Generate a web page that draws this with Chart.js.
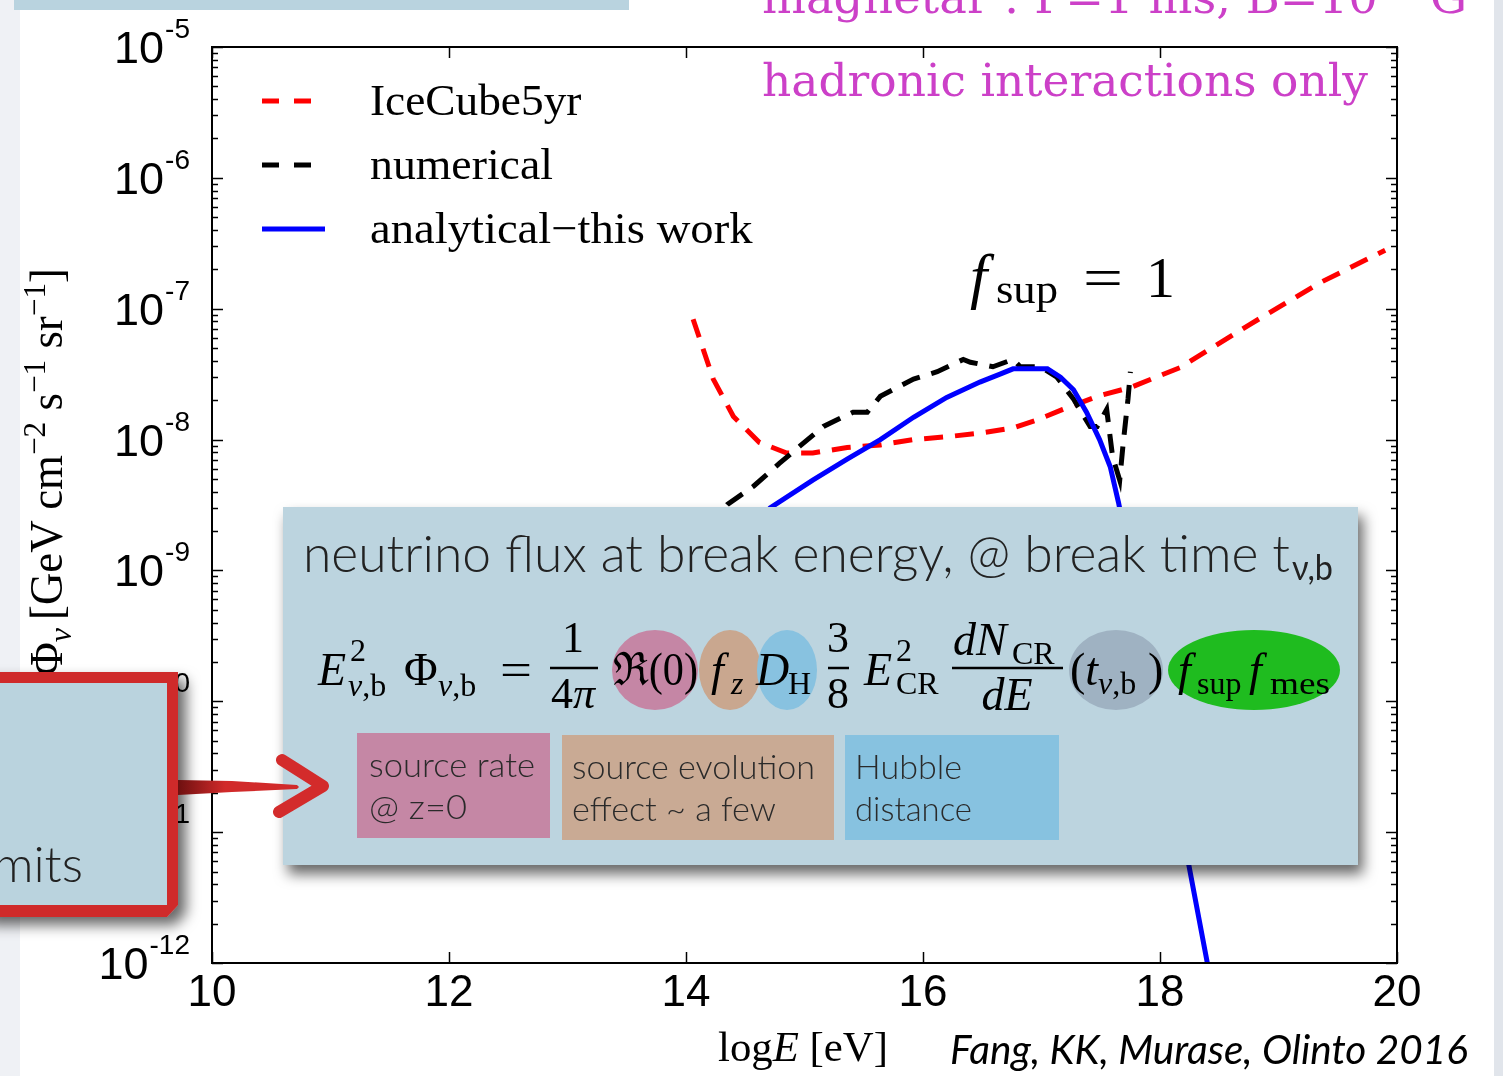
<!DOCTYPE html>
<html>
<head>
<meta charset="utf-8">
<title>Neutrino flux, magnetar hadronic interactions</title>
<script src="https://cdn.jsdelivr.net/npm/chart.js@4.4.1/dist/chart.umd.min.js"></script>
<style>
  html, body { margin: 0; padding: 0; background: #fff; }
  #stage { position: relative; width: 1503px; height: 1076px; overflow: hidden; background: #fff; }
  #chart, #deco { position: absolute; left: 0; top: 0; }
</style>
</head>
<body>
<div id="stage">
<canvas id="chart" width="1503" height="1076"></canvas>
<svg id="deco" width="1503" height="1076" viewBox="0 0 1503 1076" xmlns="http://www.w3.org/2000/svg">
  <defs>
    <filter id="boxShadow" x="-5%" y="-5%" width="115%" height="125%">
      <feDropShadow dx="5" dy="9" stdDeviation="7" flood-color="#000" flood-opacity="0.6"/>
    </filter>
    <filter id="redShadow" x="-10%" y="-10%" width="130%" height="130%">
      <feDropShadow dx="8" dy="8" stdDeviation="7" flood-color="#000" flood-opacity="0.6"/>
    </filter>
    <linearGradient id="arrowShade" x1="178" y1="0" x2="225" y2="0" gradientUnits="userSpaceOnUse">
      <stop offset="0" stop-color="#6e1010"/>
      <stop offset="1" stop-color="#d12a2a"/>
    </linearGradient>
  </defs>

  <!-- slide margins -->
  <rect x="0" y="0" width="20" height="1076" fill="#eff1f5"/>
  <rect x="1494" y="0" width="9" height="1076" fill="#e1e5eb"/>
  <rect x="14" y="0" width="615" height="10" fill="#b9d3df"/>

  <!-- slide heading (runs off the top edge) -->
  <text x="762" y="13" font-family="DejaVu Serif" font-size="44" fill="#cc40c8"
        textLength="705" lengthAdjust="spacingAndGlyphs">magnetar : P=1 ms, B=10<tspan dy="-16" font-size="28">15</tspan><tspan dy="16"> G</tspan></text>

  <!-- in-plot annotations -->
  <text x="762" y="96" font-family="DejaVu Serif" font-size="44" fill="#cc40c8"
        textLength="606" lengthAdjust="spacingAndGlyphs">hadronic interactions only</text>
  <g font-family="Liberation Serif" fill="#000">
    <text x="970" y="297" font-size="62" font-style="italic">f</text>
    <text x="996" y="303" font-size="40" textLength="62" lengthAdjust="spacingAndGlyphs">sup</text>
    <text x="1083" y="297" font-size="58" textLength="40" lengthAdjust="spacingAndGlyphs">=</text>
    <text x="1146" y="297" font-size="58">1</text>
  </g>

  <!-- y axis title -->
  <g font-family="Liberation Serif" font-size="46" fill="#000">
    <text transform="translate(62,268) rotate(-90)" text-anchor="end" textLength="352" lengthAdjust="spacingAndGlyphs">[GeV cm<tspan dy="-17" font-size="32">−2</tspan><tspan dy="17"> s</tspan><tspan dy="-17" font-size="32">−1</tspan><tspan dy="17"> sr</tspan><tspan dy="-17" font-size="32">−1</tspan><tspan dy="17">]</tspan></text>
    <text transform="translate(62,628) rotate(-90)" text-anchor="end"><tspan font-style="italic">E</tspan><tspan dy="-17" font-size="32">2</tspan><tspan dy="26" font-size="32" font-style="italic">ν</tspan><tspan dy="-9"> Φ</tspan><tspan dy="9" font-size="32" font-style="italic">ν</tspan></text>
  </g>

  <!-- x axis title and citation -->
  <text x="718" y="1061" font-family="Liberation Serif" font-size="42" fill="#000"
        textLength="170" lengthAdjust="spacingAndGlyphs">log<tspan font-style="italic">E</tspan> [eV]</text>
  <text x="950" y="1064" font-family="Lato, 'Open Sans', sans-serif" font-style="italic" font-size="40" fill="#000"
        textLength="518" lengthAdjust="spacingAndGlyphs">Fang, KK, Murase, Olinto 2016</text>

  <!-- callout box on the left -->
  <g filter="url(#redShadow)">
    <path d="M-20,672 H178 V905 L167,917 H-20 Z" fill="#cf2a2a"/>
  </g>
  <rect x="-20" y="683" width="187" height="222" fill="#bad3de"/>
  <text x="83" y="882" text-anchor="end" font-family="Lato, 'Open Sans', sans-serif" font-weight="300" font-size="50" fill="#222">limits</text>

  <!-- formula panel -->
  <g filter="url(#boxShadow)">
    <rect x="283" y="507" width="1075" height="358" fill="#bcd4df"/>
  </g>

  <!-- arrow from the callout, drawn over the panel edge -->
  <path d="M178,780 L232,781 L297,785 L299,787 L297,789 L232,792 L178,795 Z" fill="url(#arrowShade)"/>
  <polyline points="282,760 323,786 279,812" fill="none" stroke="#d32b2b" stroke-width="12" stroke-linecap="round" stroke-linejoin="round"/>

  <text x="303" y="572" font-family="Lato, 'Open Sans', sans-serif" font-weight="300" font-size="52" fill="#222"
        textLength="987" lengthAdjust="spacingAndGlyphs">neutrino flux at break energy, @ break time t</text>
  <text x="1292" y="580" font-family="Lato, 'Open Sans', sans-serif" font-size="34" fill="#222"
        textLength="41" lengthAdjust="spacingAndGlyphs">ν,b</text>

  <ellipse cx="655" cy="670" rx="43" ry="40" fill="#c586a5"/>
  <ellipse cx="730" cy="670" rx="31" ry="40" fill="#c9a78f"/>
  <ellipse cx="787" cy="670" rx="30" ry="40" fill="#88c2e0"/>
  <ellipse cx="1116" cy="670" rx="47" ry="40" fill="#9fb2c2"/>
  <ellipse cx="1254" cy="670" rx="86" ry="40" fill="#1fbc1f"/>

  <g font-family="Liberation Serif, DejaVu Serif" fill="#000">
    <text x="318" y="685" font-size="46" font-style="italic">E</text>
    <text x="350" y="661" font-size="32">2</text>
    <text x="348" y="696" font-size="32"><tspan font-style="italic">ν</tspan>,b</text>
    <text x="404" y="685" font-size="46">Φ</text>
    <text x="438" y="696" font-size="32"><tspan font-style="italic">ν</tspan>,b</text>
    <text x="500" y="685" font-size="46" textLength="32" lengthAdjust="spacingAndGlyphs">=</text>
    <text x="573" y="652" font-size="44" text-anchor="middle">1</text>
    <line x1="550" y1="668" x2="598" y2="668" stroke="#000" stroke-width="2.5"/>
    <text x="573" y="708" font-size="44" text-anchor="middle">4<tspan font-style="italic">π</tspan></text>
    <text x="613" y="685" font-size="46" textLength="85" lengthAdjust="spacingAndGlyphs">ℜ(0)</text>
    <text x="711" y="685" font-size="46" font-style="italic">f</text>
    <text x="731" y="694" font-size="32" font-style="italic">z</text>
    <text x="756" y="685" font-size="46" font-style="italic">D</text>
    <text x="788" y="694" font-size="32">H</text>
    <text x="838" y="652" font-size="44" text-anchor="middle">3</text>
    <line x1="828" y1="668" x2="849" y2="668" stroke="#000" stroke-width="2.5"/>
    <text x="838" y="708" font-size="44" text-anchor="middle">8</text>
    <text x="864" y="685" font-size="46" font-style="italic">E</text>
    <text x="896" y="661" font-size="32">2</text>
    <text x="896" y="694" font-size="32">CR</text>
    <text x="953" y="655" font-size="46" font-style="italic">dN</text>
    <text x="1012" y="664" font-size="32">CR</text>
    <line x1="952" y1="668" x2="1063" y2="668" stroke="#000" stroke-width="2.5"/>
    <text x="1007" y="710" font-size="46" font-style="italic" text-anchor="middle">dE</text>
    <text x="1070" y="685" font-size="46">(<tspan font-style="italic">t</tspan></text>
    <text x="1098" y="694" font-size="32"><tspan font-style="italic">ν</tspan>,b</text>
    <text x="1148" y="685" font-size="46">)</text>
    <text x="1178" y="685" font-size="46" font-style="italic">f</text>
    <text x="1197" y="694" font-size="32">sup</text>
    <text x="1249" y="685" font-size="46" font-style="italic">f</text>
    <text x="1270" y="694" font-size="32" textLength="60" lengthAdjust="spacingAndGlyphs">mes</text>
  </g>

  <rect x="357" y="733" width="193" height="105" fill="#c587a5"/>
  <rect x="562" y="735" width="272" height="105" fill="#c9aa94"/>
  <rect x="845" y="735" width="214" height="105" fill="#87c2e0"/>
  <g font-family="Lato, 'Open Sans', sans-serif" font-weight="300" font-size="34" fill="#2a2a2a">
    <text x="369" y="777" textLength="166" lengthAdjust="spacingAndGlyphs">source rate</text>
    <text x="369" y="819" textLength="98" lengthAdjust="spacingAndGlyphs">@ z=0</text>
    <text x="572" y="779" textLength="243" lengthAdjust="spacingAndGlyphs">source evolution</text>
    <text x="572" y="821" textLength="204" lengthAdjust="spacingAndGlyphs">effect ~ a few</text>
    <text x="855" y="779" textLength="107" lengthAdjust="spacingAndGlyphs">Hubble</text>
    <text x="855" y="821" textLength="117" lengthAdjust="spacingAndGlyphs">distance</text>
  </g>
</svg>
</div>

<script>
// log10(E / eV) and E^2 Phi [GeV cm^-2 s^-1 sr^-1] for each curve
const iceCubeLogE = [14.06, 14.23, 14.40, 14.62, 14.85, 15.07, 15.36, 15.64, 15.92, 16.20,
                     16.48, 16.76, 16.96, 17.18, 17.47, 17.75, 18.17, 18.76, 19.35, 19.90];
const iceCubeFlux = [8.3e-8, 2.9e-8, 1.5e-8, 9.5e-9, 7.9e-9, 7.9e-9, 8.7e-9, 9.1e-9, 1.0e-8, 1.05e-8,
                     1.12e-8, 1.23e-8, 1.41e-8, 1.7e-8, 2.14e-8, 2.5e-8, 3.55e-8, 7.6e-8, 1.58e-7, 2.8e-7];

const numericalLogE = [14.00, 14.35, 14.57, 14.79, 14.96, 15.16, 15.41, 15.53, 15.64, 15.92,
                       16.12, 16.34, 16.40, 16.59, 16.76, 16.82, 16.99, 17.13, 17.27, 17.41,
                       17.47, 17.55, 17.60, 17.66, 17.69, 17.73, 17.75];
const numericalFlux = [1.4e-9, 3.2e-9, 4.4e-9, 6.6e-9, 8.9e-9, 1.26e-8, 1.62e-8, 1.62e-8, 2.14e-8, 2.9e-8,
                       3.3e-8, 4.1e-8, 3.9e-8, 3.6e-8, 4.1e-8, 3.6e-8, 3.6e-8, 3.0e-8, 2.04e-8, 1.26e-8,
                       1.26e-8, 1.7e-8, 7.4e-9, 4.9e-9, 9.5e-9, 2.04e-8, 3.3e-8];

const analyticalLogE = [14.30, 14.71, 15.07, 15.36, 15.64, 15.92, 16.20, 16.48, 16.65, 16.76,
                        17.05, 17.16, 17.27, 17.38, 17.49, 17.58, 17.65, 17.85, 18.05, 18.24, 18.41];
const analyticalFlux = [1.12e-9, 3.0e-9, 4.9e-9, 7.1e-9, 1.0e-8, 1.48e-8, 2.1e-8, 2.75e-8, 3.16e-8, 3.47e-8,
                        3.47e-8, 3.0e-8, 2.4e-8, 1.62e-8, 1.0e-8, 6.2e-9, 3.3e-9, 4.0e-10, 4.0e-11, 5.8e-12, 8.9e-13];

const seriesLabels = ['IceCube5yr', 'numerical', 'analytical\u2212this work'];
const xTickValues = [10, 12, 14, 16, 18, 20];
const yTickExponents = [-12, -11, -10, -9, -8, -7, -6, -5];

function toPoints(xs, ys) {
  return xs.map((x, i) => ({ x: x, y: ys[i] }));
}

// frame, inward matplotlib-style ticks, tick labels and the legend
const axisDecor = {
  id: 'axisDecor',
  afterDraw(chart) {
    const ctx = chart.ctx;
    const a = chart.chartArea;
    const xs = chart.scales.x, ys = chart.scales.y;
    ctx.save();
    ctx.strokeStyle = '#000';
    const seg = (x1, y1, x2, y2) => { ctx.beginPath(); ctx.moveTo(x1, y1); ctx.lineTo(x2, y2); ctx.stroke(); };

    ctx.lineWidth = 1.5;
    xTickValues.forEach(v => {
      const px = Math.round(xs.getPixelForValue(v)) + 0.5;
      seg(px, a.bottom, px, a.bottom - 11);
      seg(px, a.top, px, a.top + 11);
    });
    const eMin = Math.min(...yTickExponents), eMax = Math.max(...yTickExponents);
    for (let e = eMin; e <= eMax; e++) {
      for (let m = 1; m <= 9; m++) {
        if (e === eMax && m > 1) break;
        const py = Math.round(ys.getPixelForValue(m * Math.pow(10, e))) + 0.5;
        const len = m === 1 ? 11 : 6;
        seg(a.left, py, a.left + len, py);
        seg(a.right, py, a.right - len, py);
      }
    }
    ctx.lineWidth = 2;
    ctx.strokeRect(a.left, a.top, a.right - a.left, a.bottom - a.top);

    // tick labels
    ctx.fillStyle = '#000';
    ctx.textBaseline = 'alphabetic';
    ctx.font = '44px "Liberation Sans", Arial, sans-serif';
    ctx.textAlign = 'center';
    xTickValues.forEach(v => ctx.fillText(String(v), xs.getPixelForValue(v), a.bottom + 43));

    yTickExponents.forEach(e => {
      const py = ys.getPixelForValue(Math.pow(10, e));
      const right = a.left - 22;
      ctx.font = '28px "Liberation Sans", Arial, sans-serif';
      const sup = '-' + String(-e);
      const wSup = ctx.measureText(sup).width;
      ctx.textAlign = 'left';
      ctx.fillText(sup, right - wSup, py - 9);
      ctx.font = '45px "Liberation Sans", Arial, sans-serif';
      ctx.textAlign = 'right';
      ctx.fillText('10', right - wSup - 1, py + 16);
    });

    // legend
    const rows = [101, 165, 229];
    const stretch = [1.03, 1.04, 1.06];
    chart.data.datasets.forEach((ds, i) => {
      const ly = a.top + rows[i] - 47;
      ctx.strokeStyle = ds.borderColor;
      ctx.lineWidth = 5;
      ctx.setLineDash(ds.borderDash && ds.borderDash.length ? [17, 15] : []);
      seg(a.left + 50, ly, a.left + 113, ly);
      ctx.setLineDash([]);
      ctx.fillStyle = '#000';
      ctx.textAlign = 'left';
      ctx.font = '44px "Liberation Serif", "Times New Roman", serif';
      ctx.save();
      ctx.translate(a.left + 158, ly + 14);
      ctx.scale(stretch[i], 1);
      ctx.fillText(ds.label, 0, 0);
      ctx.restore();
    });
    ctx.restore();
  }
};

new Chart(document.getElementById('chart'), {
  type: 'line',
  data: {
    datasets: [
      { label: seriesLabels[0], data: toPoints(iceCubeLogE, iceCubeFlux),
        borderColor: '#ff0000', borderWidth: 5, borderDash: [19, 12], order: 3 },
      { label: seriesLabels[1], data: toPoints(numericalLogE, numericalFlux),
        borderColor: '#000000', borderWidth: 5, borderDash: [19, 12], order: 2 },
      { label: seriesLabels[2], data: toPoints(analyticalLogE, analyticalFlux),
        borderColor: '#0000ff', borderWidth: 5, order: 1 }
    ]
  },
  options: {
    responsive: false,
    animation: false,
    devicePixelRatio: 1,
    elements: { point: { radius: 0 }, line: { tension: 0, fill: false } },
    layout: { padding: { left: 212, top: 47, right: 106, bottom: 113 } },
    plugins: { legend: { display: false }, tooltip: { enabled: false } },
    scales: {
      x: { type: 'linear', min: 10, max: 20, display: false },
      y: { type: 'logarithmic', min: 1e-12, max: 1e-5, display: false }
    }
  },
  plugins: [axisDecor]
});
</script>
</body>
</html>
